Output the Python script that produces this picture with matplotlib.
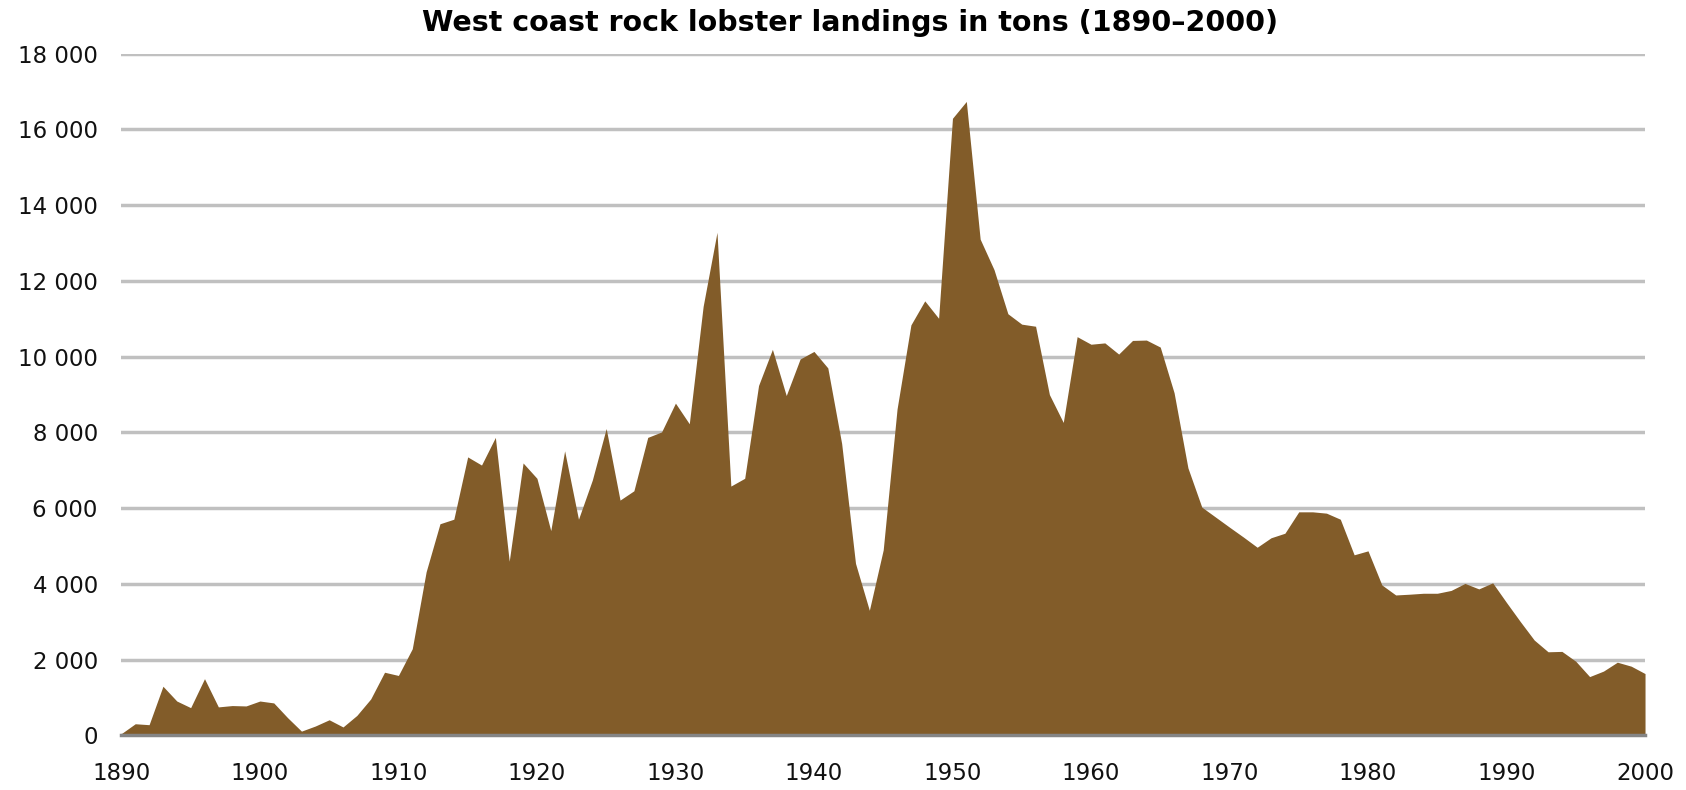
import matplotlib
matplotlib.use('Agg')
from matplotlib import pyplot as plt
from matplotlib.ticker import FuncFormatter

years = list(range(1890, 2001))
tons = [
    50, 310, 285, 1300, 910, 735, 1500, 755, 790, 780,          # 1890-1899
    910, 860, 470, 115, 250, 415, 225, 530, 965, 1670,          # 1900-1909
    1585, 2290, 4320, 5590, 5710, 7355, 7140, 7870, 4600, 7195, # 1910-1919
    6790, 5410, 7515, 5710, 6745, 8105, 6215, 6460, 7870, 8015, # 1920-1929
    8775, 8230, 11330, 13285, 6585, 6790, 9240, 10195, 8975, 9940, # 1930-1939
    10140, 9705, 7710, 4545, 3305, 4900, 8620, 10840, 11475, 11015, # 1940-1949
    16295, 16740, 13105, 12300, 11135, 10860, 10805, 9000, 8265, 10530, # 1950-1959
    10330, 10365, 10070, 10430, 10440, 10255, 9050, 7065, 6030, 5765, # 1960-1969
    5500, 5240, 4970, 5220, 5340, 5905, 5905, 5870, 5710, 4770, # 1970-1979
    4875, 3975, 3710, 3730, 3755, 3755, 3830, 4015, 3870, 4030, # 1980-1989
    3510, 3005, 2520, 2210, 2220, 1960, 1555, 1700, 1935, 1830, # 1990-1999
    1635,                                                        # 2000
]
title = 'West coast rock lobster landings in tons (1890\u20132000)'

fig = plt.figure(figsize=(16.86, 7.9), dpi=100)
ax = fig.add_axes([0.072, 0.069, 0.9037, 0.863])

ax.fill_between(years, tons, 0, color='#825C29', linewidth=0, zorder=2)

ax.set_xlim(1890, 2000)
ax.set_ylim(0, 18000)
ax.set_xticks(range(1890, 2001, 10))
ax.set_yticks(range(0, 18001, 2000))
ax.yaxis.set_major_formatter(FuncFormatter(lambda v, p: '{:,}'.format(int(v)).replace(',', ' ')))

ax.grid(axis='y', color='#C0C0C0', linewidth=2.5, zorder=1)
ax.set_axisbelow(True)
for s in ['top', 'right', 'left']:
    ax.spines[s].set_visible(False)
ax.spines['bottom'].set_color('#858585')
ax.spines['bottom'].set_linewidth(2.5)
ax.spines['bottom'].set_zorder(3)

ax.tick_params(axis='both', length=0, labelsize=16.5, colors='#111111')
ax.tick_params(axis='x', pad=19)
ax.tick_params(axis='y', pad=17)

fig.text(0.504, 0.971, title, ha='center', va='center', fontsize=20.5, fontweight='bold')

fig.savefig('out.png', dpi=100)
